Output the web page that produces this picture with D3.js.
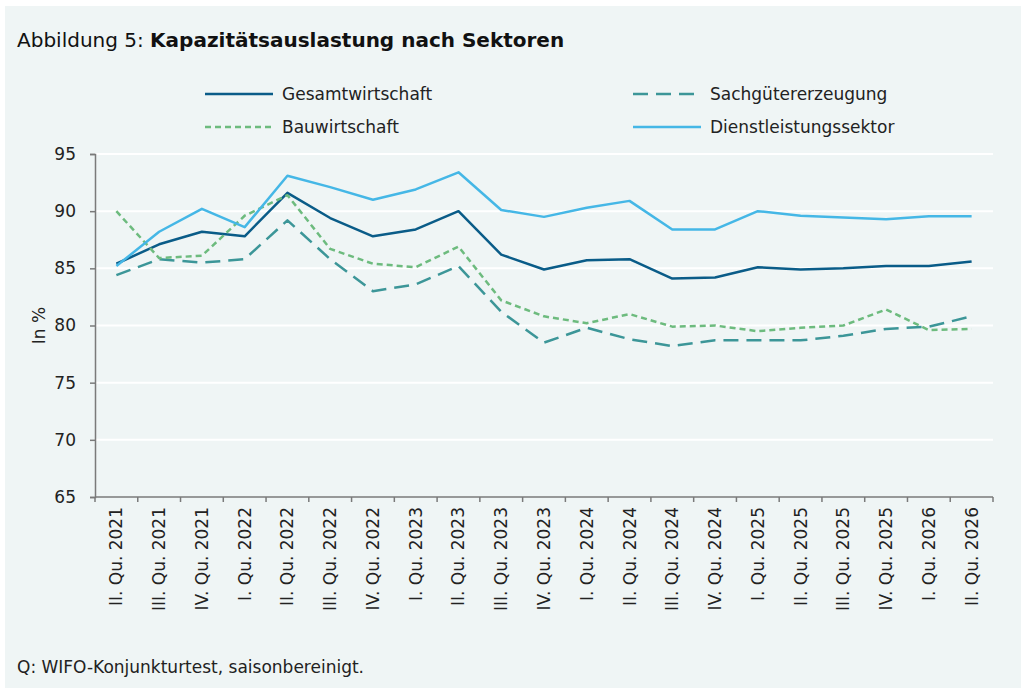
<!DOCTYPE html>
<html>
<head>
<meta charset="utf-8">
<script src="https://cdnjs.cloudflare.com/ajax/libs/d3/7.8.5/d3.min.js"></script>
<style>
  body { margin: 0; background: #fff; }
  svg { display: block; font-family: "DejaVu Sans", sans-serif; }
</style>
</head>
<body>
<svg id="chart" width="1027" height="690"></svg>
<script>
// quarters on the x axis
var quarters = ["II. Qu. 2021", "III. Qu. 2021", "IV. Qu. 2021", "I. Qu. 2022", "II. Qu. 2022",
  "III. Qu. 2022", "IV. Qu. 2022", "I. Qu. 2023", "II. Qu. 2023", "III. Qu. 2023", "IV. Qu. 2023",
  "I. Qu. 2024", "II. Qu. 2024", "III. Qu. 2024", "IV. Qu. 2024", "I. Qu. 2025", "II. Qu. 2025",
  "III. Qu. 2025", "IV. Qu. 2025", "I. Qu. 2026", "II. Qu. 2026"];

var gesamt = [85.4, 87.1, 88.2, 87.8, 91.6, 89.4, 87.8, 88.4, 90.0, 86.2, 84.9, 85.7, 85.8, 84.1, 84.2,
  85.1, 84.9, 85.0, 85.2, 85.2, 85.6];
var sach = [84.4, 85.8, 85.5, 85.8, 89.2, 85.8, 83.0, 83.6, 85.2, 81.2, 78.5, 79.8, 78.8, 78.2, 78.7,
  78.7, 78.7, 79.1, 79.7, 79.9, 80.8];
var bau = [90.0, 85.9, 86.1, 89.6, 91.4, 86.7, 85.4, 85.1, 86.9, 82.2, 80.8, 80.2, 81.0, 79.9, 80.0,
  79.5, 79.8, 80.0, 81.4, 79.6, 79.7];
var dienst = [85.2, 88.2, 90.2, 88.6, 93.1, 92.1, 91.0, 91.9, 93.4, 90.1, 89.5, 90.3, 90.9, 88.4, 88.4,
  90.0, 89.6, 89.45, 89.3, 89.55, 89.55];

var yTicks = [65, 70, 75, 80, 85, 90, 95];

var seriesNames = ["Gesamtwirtschaft", "Sachgütererzeugung", "Bauwirtschaft", "Dienstleistungssektor"];
var seriesValues = [gesamt, sach, bau, dienst];

var series = [
  {name: seriesNames[0], values: seriesValues[0], color: "#0a5c88", dash: null},
  {name: seriesNames[1], values: seriesValues[1], color: "#3c9698", dash: "15,8"},
  {name: seriesNames[2], values: seriesValues[2], color: "#6dbb7e", dash: "6,4"},
  {name: seriesNames[3], values: seriesValues[3], color: "#45b7e6", dash: null}
];

var svg = d3.select("#chart");

// panel background
svg.append("rect")
  .attr("x", 5).attr("y", 6)
  .attr("width", 1016).attr("height", 682)
  .attr("fill", "#eff5f5");

// title
var title = svg.append("text")
  .attr("x", 17).attr("y", 47)
  .attr("font-size", 20)
  .attr("fill", "#111");
title.append("tspan").text("Abbildung 5: ");
title.append("tspan").attr("font-weight", "bold").text("Kapazitätsauslastung nach Sektoren");

var plotLeft = 95, plotRight = 993, plotTop = 154, plotBottom = 497;

var x = d3.scaleBand().domain(quarters).range([plotLeft, plotRight]);
var y = d3.scaleLinear().domain([65, 95]).range([plotBottom, plotTop]);

// gridlines
svg.append("g")
  .selectAll("line")
  .data(yTicks.filter(function(d) { return d > 65; }))
  .join("line")
  .attr("x1", plotLeft).attr("x2", plotRight)
  .attr("y1", function(d) { return y(d); })
  .attr("y2", function(d) { return y(d); })
  .attr("stroke", "#ffffff")
  .attr("stroke-width", 2);

// y axis
var yAxis = svg.append("g")
  .attr("transform", "translate(" + plotLeft + ",0)")
  .call(d3.axisLeft(y).tickValues(yTicks).tickSize(5).tickPadding(14));
yAxis.select(".domain").attr("stroke", "#7a7a7a").attr("stroke-width", 1.5);
yAxis.selectAll(".tick line").attr("stroke", "#7a7a7a").attr("stroke-width", 1.5);
yAxis.selectAll(".tick text")
  .attr("font-size", 17)
  .attr("font-family", "DejaVu Sans")
  .attr("fill", "#222");

// x axis, ticks at band edges
var edges = quarters.map(function(q) { return x(q); }).concat([plotRight]);
svg.append("line")
  .attr("x1", plotLeft).attr("x2", plotRight)
  .attr("y1", plotBottom).attr("y2", plotBottom)
  .attr("stroke", "#7a7a7a").attr("stroke-width", 1.5);
svg.append("g")
  .selectAll("line")
  .data(edges)
  .join("line")
  .attr("x1", function(d) { return d; }).attr("x2", function(d) { return d; })
  .attr("y1", plotBottom).attr("y2", plotBottom + 5)
  .attr("stroke", "#7a7a7a").attr("stroke-width", 1.5);

svg.append("g")
  .selectAll("text")
  .data(quarters)
  .join("text")
  .attr("transform", function(d) {
    return "translate(" + (x(d) + x.bandwidth() / 2 + 6) + "," + (plotBottom + 10) + ") rotate(-90)";
  })
  .attr("text-anchor", "end")
  .attr("font-size", 17)
  .attr("fill", "#222")
  .text(function(d) { return d; });

// y axis title
svg.append("text")
  .attr("transform", "translate(45," + ((plotTop + plotBottom) / 2) + ") rotate(-90)")
  .attr("text-anchor", "middle")
  .attr("font-size", 17)
  .attr("fill", "#222")
  .text("In %");

// lines
var line = d3.line()
  .x(function(d, i) { return x(quarters[i]) + x.bandwidth() / 2; })
  .y(function(d) { return y(d); });

svg.append("g")
  .selectAll("path")
  .data(series)
  .join("path")
  .attr("d", function(s) { return line(s.values); })
  .attr("fill", "none")
  .attr("stroke", function(s) { return s.color; })
  .attr("stroke-width", 2.5)
  .attr("stroke-dasharray", function(s) { return s.dash; })
  .attr("stroke-linejoin", "round");

// legend
var legendPos = [[205, 94], [633, 94], [205, 127], [633, 127]];
var legend = svg.append("g")
  .selectAll("g")
  .data(series)
  .join("g")
  .attr("transform", function(s, i) { return "translate(" + legendPos[i][0] + "," + legendPos[i][1] + ")"; });
legend.append("line")
  .attr("x1", 0).attr("x2", 68)
  .attr("stroke", function(s) { return s.color; })
  .attr("stroke-width", 2.5)
  .attr("stroke-dasharray", function(s) { return s.dash; });
legend.append("text")
  .attr("x", 77).attr("y", 6)
  .attr("font-size", 17)
  .attr("fill", "#222")
  .text(function(s) { return s.name; });

// source note
svg.append("text")
  .attr("x", 17).attr("y", 673)
  .attr("font-size", 17)
  .attr("fill", "#222")
  .text("Q: WIFO-Konjunkturtest, saisonbereinigt.");
</script>
</body>
</html>
